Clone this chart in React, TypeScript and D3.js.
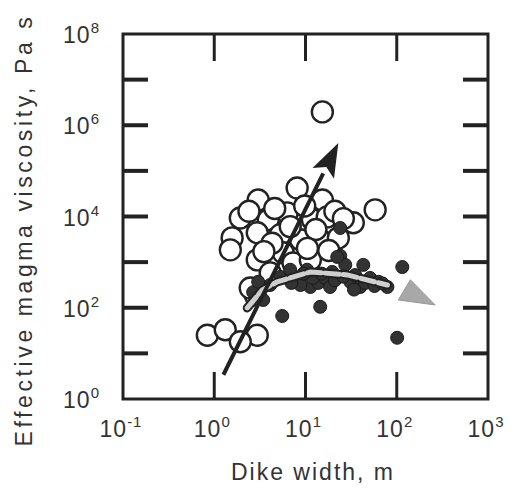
import React from "react";
import * as d3 from "d3";

// dike width (m) vs effective viscosity (Pa s)
const openPoints: [number, number][] = [
  [15.3, 1.96e6], [8.1, 4.2e4], [3.03, 2.3e4], [15.3, 2.3e4], [58, 1.4e4],
  [1.93, 9.3e3], [3.91, 8.5e3], [6.3, 1.2e4], [11.9, 8.5e3], [17.3, 9.8e3],
  [21, 1.3e4], [33.4, 7.3e3], [1.57, 3.4e3], [2.96, 4.4e3], [1.5, 1.86e3],
  [5.3, 4e3], [8.8, 3.1e3], [14.5, 3.1e3], [22.9, 3.4e3], [2.96, 1.12e3],
  [5.7, 1.6e3], [4.1, 580], [7.3, 960], [11.3, 1.12e3], [0.84, 25],
  [1.32, 33], [2.96, 25], [1.93, 18], [2.81, 190], [2.48, 270],
  [2.4, 1.3e4], [4.6, 1.5e4], [9.8, 1.7e4], [26, 9e3], [13, 5.2e3],
  [6.8, 6e3], [4.3, 2.6e3], [10.5, 2e3], [18, 1.8e3], [3.5, 1.7e3],
];

const filledPoints: [number, number][] = [
  [5.56, 66], [14.5, 105], [115, 780], [101, 22], [2.67, 220], [3.44, 148],
  [4.1, 315], [5.3, 475], [6.8, 680], [8.8, 450], [10.4, 680], [11.3, 285],
  [13.8, 350], [16.5, 450], [19.6, 610], [24, 1380], [27.3, 870], [31, 370],
  [39.8, 285], [43, 870], [51, 450], [63, 370], [79, 285], [18.6, 285],
  [8.8, 315], [24, 5600], [22.3, 1300], [3.03, 370], [7, 350],
  [12, 450], [15, 560], [21, 400], [26, 480], [35, 520], [45, 350],
  [57, 300], [70, 340], [9.5, 560], [34, 250],
];

const grayTrend: [number, number][] = [
  [2.3, 99], [3.36, 245], [4.9, 370], [11.3, 610], [28.7, 525], [79, 315],
];
const grayHead: [number, number][] = [[141, 410], [264, 115], [104, 148]];

const blackArrow: [number, number][] = [[1.26, 3.4], [22.9, 4.1e5]];

const xTicks = [1, 10, 100];
const yTicks = [10, 100, 1e3, 1e4, 1e5, 1e6, 1e7];
const xLabels = [
  { v: 0.1, e: "-1" }, { v: 1, e: "0" }, { v: 10, e: "1" }, { v: 100, e: "2" }, { v: 1000, e: "3" },
];
const yLabels = [
  { v: 1, e: "0" }, { v: 100, e: "2" }, { v: 1e4, e: "4" }, { v: 1e6, e: "6" }, { v: 1e8, e: "8" },
];

export default function App() {
  const width = 515, height = 489;
  const left = 123, right = 488, top = 34, bottom = 399;

  const x = d3.scaleLog().domain([0.1, 1000]).range([left, right]);
  const y = d3.scaleLog().domain([1, 1e8]).range([bottom, top]);

  const line = d3.line<[number, number]>().x((d) => x(d[0])).y((d) => y(d[1]));

  // black arrow head, built in pixel space from the scaled end points
  const [p0, p1] = blackArrow.map((d) => [x(d[0]), y(d[1])]);
  const ang = Math.atan2(p1[1] - p0[1], p1[0] - p0[0]);
  const headLen = 34, headW = 12;
  const bx = p1[0] - headLen * Math.cos(ang), by = p1[1] - headLen * Math.sin(ang);
  const nx = -Math.sin(ang), ny = Math.cos(ang);
  const head = `M${p1[0]},${p1[1]} L${bx + nx * headW},${by + ny * headW} L${bx + 7 * Math.cos(ang)},${by + 7 * Math.sin(ang)} L${bx - nx * headW},${by - ny * headW} Z`;

  const font = "'Liberation Sans', Arial, Helvetica, sans-serif";
  const ink = "#222";

  return (
    <svg width={width} height={height} style={{ position: "absolute", left: 0, top: 0, background: "#fff" }}>
      {/* open circles */}
      {openPoints.map((d, i) => (
        <circle key={"o" + i} cx={x(d[0])} cy={y(d[1])} r={10.5} fill="#fff" stroke={ink} strokeWidth={2.4} />
      ))}
      {/* filled circles */}
      {filledPoints.map((d, i) => (
        <circle key={"f" + i} cx={x(d[0])} cy={y(d[1])} r={6.5} fill="#333" stroke="#1a1a1a" strokeWidth={1} />
      ))}
      {/* gray trend */}
      <path d={line(grayTrend) || ""} fill="none" stroke="#222" strokeWidth={9} strokeLinecap="round" strokeDasharray="14 4" />
      <path d={line(grayTrend) || ""} fill="none" stroke="#cfcfcf" strokeWidth={5} strokeLinecap="round" strokeDasharray="14 4" />
      <path d={(line(grayHead) || "") + "Z"} fill="#a8a8a8" stroke="#999" strokeWidth={1} />
      {/* black arrow */}
      <line x1={p0[0]} y1={p0[1]} x2={bx} y2={by} stroke={ink} strokeWidth={4} />
      <path d={head} fill={ink} />

      {/* frame */}
      <rect x={left} y={top} width={right - left} height={bottom - top} fill="none" stroke={ink} strokeWidth={3} />
      {xTicks.map((t) => (
        <g key={"xt" + t}>
          <line x1={x(t)} x2={x(t)} y1={top} y2={top + 27} stroke={ink} strokeWidth={3} />
          <line x1={x(t)} x2={x(t)} y1={bottom} y2={bottom - 27} stroke={ink} strokeWidth={3} />
        </g>
      ))}
      {yTicks.map((t) => (
        <g key={"yt" + t}>
          <line x1={left} x2={left + 25} y1={y(t)} y2={y(t)} stroke={ink} strokeWidth={4} />
          <line x1={right} x2={right - 25} y1={y(t)} y2={y(t)} stroke={ink} strokeWidth={4} />
        </g>
      ))}

      {/* tick labels */}
      {xLabels.map((l) => (
        <text key={"xl" + l.v} x={x(l.v) - 2} y={437} textAnchor="middle" fontFamily={font} fontSize={23} fill="#333" letterSpacing={1}>
          10<tspan dy={-10} fontSize={15}>{l.e}</tspan>
        </text>
      ))}
      {yLabels.map((l) => (
        <text key={"yl" + l.v} x={100} y={y(l.v) + 9} textAnchor="end" fontFamily={font} fontSize={23} fill="#333" letterSpacing={1}>
          10<tspan dy={-10} fontSize={15}>{l.e}</tspan>
        </text>
      ))}

      {/* axis titles */}
      <text x={313} y={480} textAnchor="middle" fontFamily={font} fontSize={23} fill="#333" letterSpacing={2}>
        Dike width, m
      </text>
      <text transform="translate(32,230) rotate(-90)" textAnchor="middle" fontFamily={font} fontSize={23} fill="#333" letterSpacing={3.6}>
        Effective magma viscosity, Pa s
      </text>
    </svg>
  );
}
